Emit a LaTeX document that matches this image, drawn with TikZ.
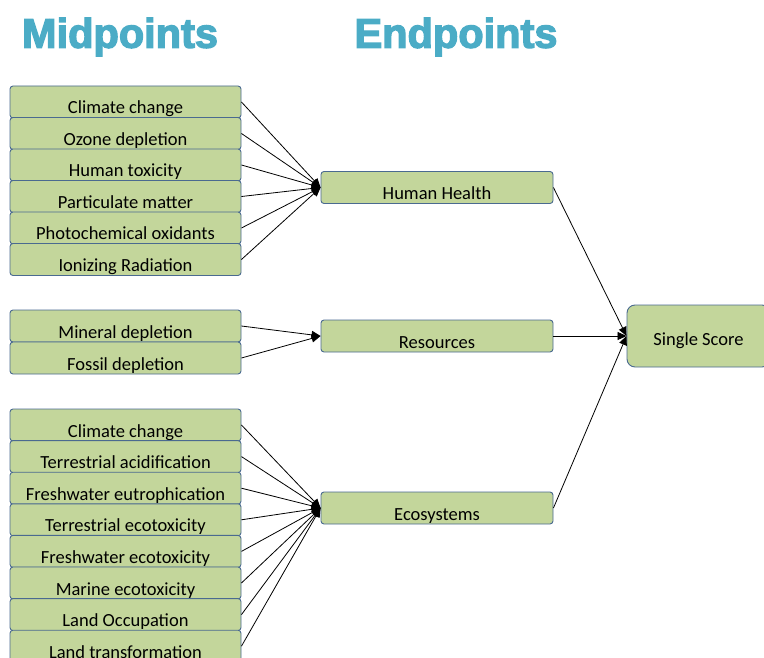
\documentclass[tikz,border=0pt]{standalone}
\usepackage{fontspec}
\setmainfont{Carlito}
\newfontfamily\titlefont{Liberation Sans}
\usetikzlibrary{arrows.meta}
\definecolor{boxfill}{HTML}{C3D69B}
\definecolor{boxline}{HTML}{4A6A90}
\definecolor{titleblue}{HTML}{4BACC6}
% heavier lettering: fill and stroke the glyph outlines
\newcommand{\heavytext}[1]{\special{pdf:literal direct 2 Tr 1.3 w}#1\special{pdf:literal direct 0 Tr}}

\begin{document}
\begin{tikzpicture}[x=1pt,y=-1pt,
  box/.style={draw=boxline, fill=boxfill, line width=0.9pt, rounded corners=3pt,
    minimum height=32pt, inner sep=0pt, text height=24pt, text depth=0pt,
    font=\fontsize{18.5}{21}\selectfont},
  mid/.style={box, minimum width=231pt},
  endp/.style={box, minimum width=232pt},
  link/.style={draw=black, line width=0.8pt, -{Triangle[length=9pt,width=8pt]}},
  title/.style={text=titleblue, inner sep=0pt, font=\titlefont\bfseries\fontsize{41.5}{46}\selectfont}]
\useasboundingbox (0,0) rectangle (764,658);

% column headings
\node[title] (tmid) at (120,37) {\heavytext{Midpoints}};
\node[title] (tend) at (456,37) {\heavytext{Endpoints}};

% endpoint boxes
\node[endp] (hh) at (437,187.5) {Human Health};
\node[endp] (res) at (437,336) {Resources};
\node[endp] (eco) at (437,508) {Ecosystems};
\node[box, minimum width=143pt, minimum height=62pt, rounded corners=8pt, text height=19pt]
  (ss) at (698.5,336) {Single Score};

% midpoints feeding human health
\foreach \t [count=\i] in {Climate change, Ozone depletion, Human toxicity,
    Particulate matter, Photochemical oxidants, Ionizing Radiation} {
  \node[mid] (h\i) at (125.5,{102+31.5*(\i-1)}) {\t};
  \draw[link] (h\i.east) -- (hh.west);
}

% midpoints feeding resources
\foreach \t [count=\i] in {Mineral depletion, Fossil depletion} {
  \node[mid] (r\i) at (125.5,{326+32*(\i-1)}) {\t};
  \draw[link] (r\i.east) -- (res.west);
}

% midpoints feeding ecosystems
\foreach \t [count=\i] in {Climate change, Terrestrial acidification,
    Freshwater eutrophication, Terrestrial ecotoxicity, Freshwater ecotoxicity,
    Marine ecotoxicity, Land Occupation, Land transformation} {
  \node[mid] (e\i) at (125.5,{425+31.6*(\i-1)}) {\t};
  \draw[link] (e\i.east) -- (eco.west);
}

% endpoints to single score
\draw[link] (hh.east) -- (ss.west);
\draw[link] (res.east) -- (ss.west);
\draw[link] (eco.east) -- (ss.west);
\end{tikzpicture}
\end{document}
